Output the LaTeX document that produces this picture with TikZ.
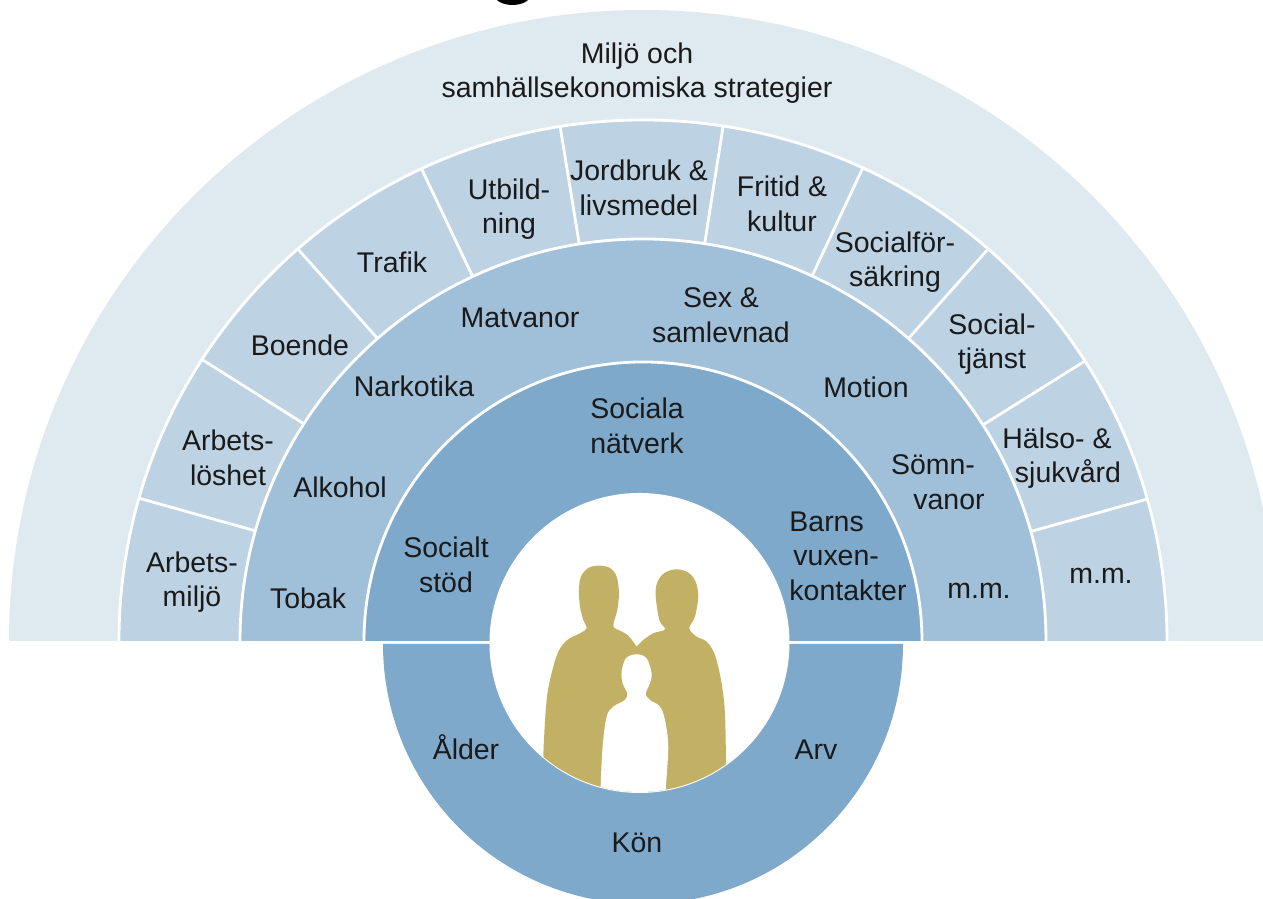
\documentclass[tikz,border=0pt]{standalone}
\usepackage{fontspec}
\setmainfont{Liberation Sans}
\usepackage{tikz}
\definecolor{ringfour}{HTML}{DFEAF0}
\definecolor{ringthree}{HTML}{BDD2E3}
\definecolor{ringtwo}{HTML}{A0BFD8}
\definecolor{ringone}{HTML}{7EA9CB}
\definecolor{figgold}{HTML}{C2B164}
\definecolor{lbltext}{HTML}{1A1A1A}
\def\halfring[#1](#2:#3){\draw[#1] (6.43-#2, 2.58) arc (180:0:#2 and #3);}
\tikzset{
	lbl/.style={align=center, inner sep=0pt, text=lbltext, font=\fontsize{8.1}{9.85}\selectfont},
	rim/.style={draw=white, line width=0.8pt}
}

\begin{document}
\begin{tikzpicture}
			%%%%% BANDS %%%%%
			\path[use as bounding box, clip] (0, 0) rectangle (12.63, 8.99);
			
			\fill[black] (5.125, 9.04) ellipse (0.18 and 0.1);
			
			\fill[ringfour] (0.09, 2.58) arc (180:0:6.34 and 6.31);
			\halfring[rim, fill=ringthree](5.24:5.21);
			
			\foreach \a in {15.8, 32.5, 48.8, 65.2, 81.2, 99.1, 115, 131.2, 147.3, 164.1}
				\draw[rim] ({6.43+4.03*cos(\a)}, {2.58+4.02*sin(\a)}) -- ({6.43+5.24*cos(\a)}, {2.58+5.21*sin(\a)});
			
			\halfring[rim, fill=ringtwo](4.03:4.02);
			\halfring[rim, fill=ringone](2.79:2.79);
			
			\fill[ringone] (3.83, 2.55) arc (180:360:2.6);
			\fill[white] (6.395, 2.56) circle (1.5);
			
			%%%%% FIGURES %%%%%
			\begin{scope}
				\clip (6.395, 2.56) circle (1.49);
				\begin{scope}[shift={(4.8, 3.59)}, x=0.03333mm, y=-0.03333mm]
					\fill[figgold] plot[smooth, tension=0.55] coordinates {(188,800) (190,645) (200,480) (215,400) (235,335) (262,300) (300,280) (320,265) (310,240) (300,200) (297,150) (303,110) (325,84) (357,77) (390,84) (410,110) (417,160) (412,210) (400,258) (420,272) (445,287) (470,320)}
						-- plot[smooth, tension=0.55] coordinates {(470,320) (490,300) (520,280) (555,268) (538,240) (527,165) (533,125) (555,98) (590,88) (625,98) (647,125) (655,170) (645,230) (628,265) (650,290) (680,305) (705,345) (725,430) (735,520) (738,665) (738,800)} -- cycle;
					\fill[white] plot[smooth cycle, tension=0.55] coordinates {(470,343) (500,355) (515,400) (510,430) (497,462) (510,480) (540,500) (555,540) (565,620) (558,745) (558,830) (362,830) (362,745) (368,620) (380,530) (400,500) (435,480) (442,460) (428,430) (425,395) (438,355)};
				\end{scope}
			\end{scope}
			
			%%%%% LABELS %%%%%
			\node[lbl] (miljo) at (6.37, 8.26) {Miljö och\\samhällsekonomiska strategier};
			
			\node[lbl] (arbetsmiljo) at (1.92, 3.17) {Arbets-\\miljö};
			\node[lbl] (arbetsloshet) at (2.28, 4.41) {Arbets-\\löshet};
			\node[lbl] (boende) at (3.00, 5.54) {Boende};
			\node[lbl] (trafik) at (3.92, 6.37) {Trafik};
			\node[lbl] (utbildning) at (5.09, 6.90) {Utbild-\\ning};
			\node[lbl] (jordbruk) at (6.39, 7.11) {Jordbruk \&\\livsmedel};
			\node[lbl] (fritid) at (7.82, 6.95) {Fritid \&\\kultur};
			\node[lbl] (forsakring) at (8.95, 6.37) {Socialför-\\säkring};
			\node[lbl] (socialtjanst) at (9.92, 5.55) {Social-\\tjänst};
			\node[lbl] (halso) at (10.68, 4.41) {Hälso- \&\hspace*{0.22cm}\\sjukvård};
			\node[lbl] (mmouter) at (11.01, 3.23) {m.m.};
			
			\node[lbl] (tobak) at (3.08, 3.01) {Tobak};
			\node[lbl] (alkohol) at (3.40, 4.12) {Alkohol};
			\node[lbl] (narkotika) at (4.14, 5.13) {Narkotika};
			\node[lbl] (matvanor) at (5.20, 5.81) {Matvanor};
			\node[lbl] (sex) at (7.21, 5.84) {Sex \&\\samlevnad};
			\node[lbl] (motion) at (8.66, 5.12) {Motion};
			\node[lbl] (somn) at (9.49, 4.17) {Sömn-\hspace*{0.32cm}\\vanor};
			\node[lbl] (mminner) at (9.79, 3.08) {m.m.};
			
			\node[lbl] (stod) at (4.46, 3.34) {Socialt\\stöd};
			\node[lbl] (natverk) at (6.37, 4.73) {Sociala\\nätverk};
			\node[lbl, align=left] (barns) at (8.48, 3.43) {Barns\\\hspace*{0.04cm}vuxen-\\kontakter};
			
			\node[lbl] (alder) at (4.66, 1.52) {Ålder};
			\node[lbl] (arv) at (8.16, 1.49) {Arv};
			\node[lbl] (kon) at (6.37, 0.56) {Kön};
		\end{tikzpicture}
\end{document}
